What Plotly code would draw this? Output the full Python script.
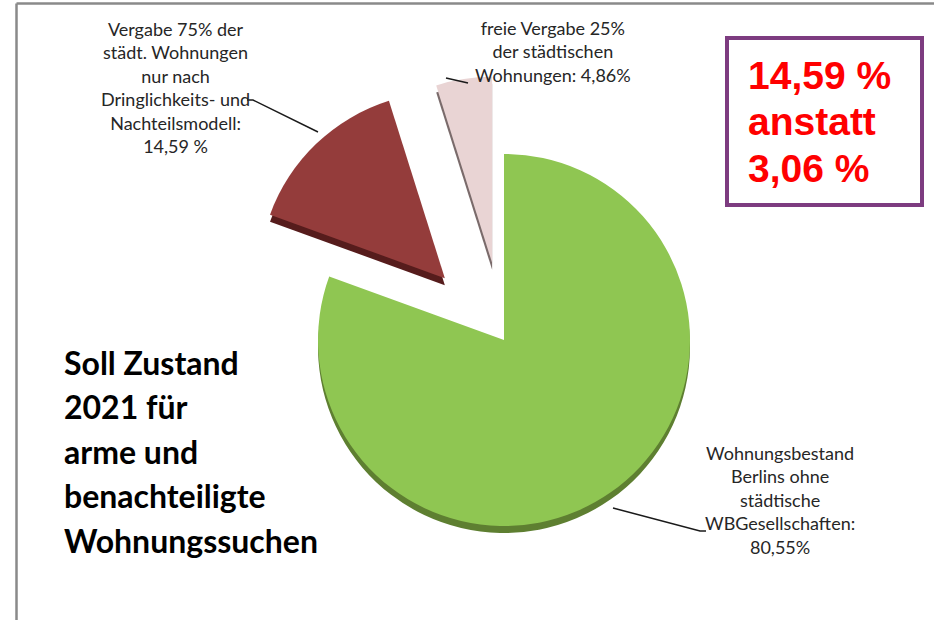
import plotly.graph_objects as go

# ---- data ----
labels = [
    "Wohnungsbestand Berlins ohne städtische WBGesellschaften",
    "Vergabe 75% der städt. Wohnungen nur nach Dringlichkeits- und Nachteilsmodell",
    "freie Vergabe 25% der städtischen Wohnungen",
]
values = [80.55, 14.59, 4.86]
label_texts = [
    "Wohnungsbestand<br>Berlins ohne<br>städtische<br>WBGesellschaften:<br>80,55%",
    "Vergabe 75% der<br>städt. Wohnungen<br>nur nach<br>Dringlichkeits- und<br>Nachteilsmodell:<br>14,59 %",
    "freie Vergabe 25%<br>der städtischen<br>Wohnungen: 4,86%",
]
title_lines = ["Soll Zustand", "2021 für", "arme und", "benachteiligte", "Wohnungssuchen"]
box_lines = ["14,59 %", "anstatt", "3,06 %"]

# ---- style ----
W, H = 934, 620
top_colors = ["#8fc652", "#943c3b", "#e9d4d4"]
side_colors = ["#5e7f31", "#561c1c", "#7a6b6b"]
pulls = [0.0, 0.46, 0.42]

cx, cy, r = 504, 340, 186
depth = 7
half = r * (1 + max(pulls))
dom_x = [(cx - half) / W, (cx + half) / W]
a = H - cy - depth  # half height (taller than wide, so width limits radius)
dom_y_top = [(H - cy - a) / H, (H - cy + a) / H]
dom_y_side = [(H - cy - depth - a) / H, (H - cy - depth + a) / H]

fig = go.Figure()
# 3D side (shadow) layer
fig.add_trace(go.Pie(
    labels=labels, values=values, sort=False, direction="clockwise", rotation=0,
    pull=pulls, marker=dict(colors=side_colors, line=dict(width=0)),
    textinfo="none", hoverinfo="skip", showlegend=False,
    domain=dict(x=dom_x, y=dom_y_side),
))
# top face
fig.add_trace(go.Pie(
    labels=labels, values=values, sort=False, direction="clockwise", rotation=0,
    pull=pulls, marker=dict(colors=top_colors, line=dict(width=0)),
    textinfo="none", showlegend=False,
    domain=dict(x=dom_x, y=dom_y_top),
))

def px(x):
    return x / W

def py(y):
    return 1 - y / H

shapes = []
# frame lines
shapes.append(dict(type="line", xref="paper", yref="paper", x0=px(16.5), x1=1, y0=py(3.5), y1=py(3.5),
                   line=dict(color="#8a8a8a", width=2.5)))
shapes.append(dict(type="line", xref="paper", yref="paper", x0=px(16.5), x1=px(16.5), y0=py(3.5), y1=0,
                   line=dict(color="#8a8a8a", width=2.5)))
# purple box
shapes.append(dict(type="rect", xref="paper", yref="paper", x0=px(727), x1=px(922), y0=py(38), y1=py(205),
                   line=dict(color="#7d3c80", width=4), fillcolor="rgba(0,0,0,0)"))
# leader lines
leaders = [
    [(613, 508), (700, 531), (706, 531)],
    [(318, 132), (253, 100), (247, 100)],
    [(446, 78), (468, 83)],
]
for pts in leaders:
    path = "M " + " L ".join(f"{px(x)},{py(y)}" for x, y in pts)
    shapes.append(dict(type="path", xref="paper", yref="paper", path=path,
                       line=dict(color="#1a1a1a", width=1.5)))

annotations = []
label_pos = [(780, 500), (175, 87), (553, 52)]
for txt, (x, y) in zip(label_texts, label_pos):
    annotations.append(dict(text=txt, x=px(x), y=py(y), xref="paper", yref="paper",
                            xanchor="center", yanchor="middle", align="center", showarrow=False,
                            font=dict(family="Lato", size=18, color="#262626")))
for i, t in enumerate(title_lines):
    annotations.append(dict(text=f"<b>{t}</b>", x=px(62), y=py(362 + i * 44.5), xref="paper", yref="paper",
                            xanchor="left", yanchor="middle", showarrow=False,
                            font=dict(family="Lato", size=32, color="#000000")))
for i, t in enumerate(box_lines):
    annotations.append(dict(text=f"<b>{t}</b>", x=px(746), y=py(75 + i * 46.5), xref="paper", yref="paper",
                            xanchor="left", yanchor="middle", showarrow=False,
                            font=dict(family="Liberation Sans", size=39, color="#ff0000")))

fig.update_layout(
    width=W, height=H, margin=dict(l=0, r=0, t=0, b=0),
    paper_bgcolor="white", plot_bgcolor="white",
    shapes=shapes, annotations=annotations, showlegend=False,
)
fig.write_html("out.html")
